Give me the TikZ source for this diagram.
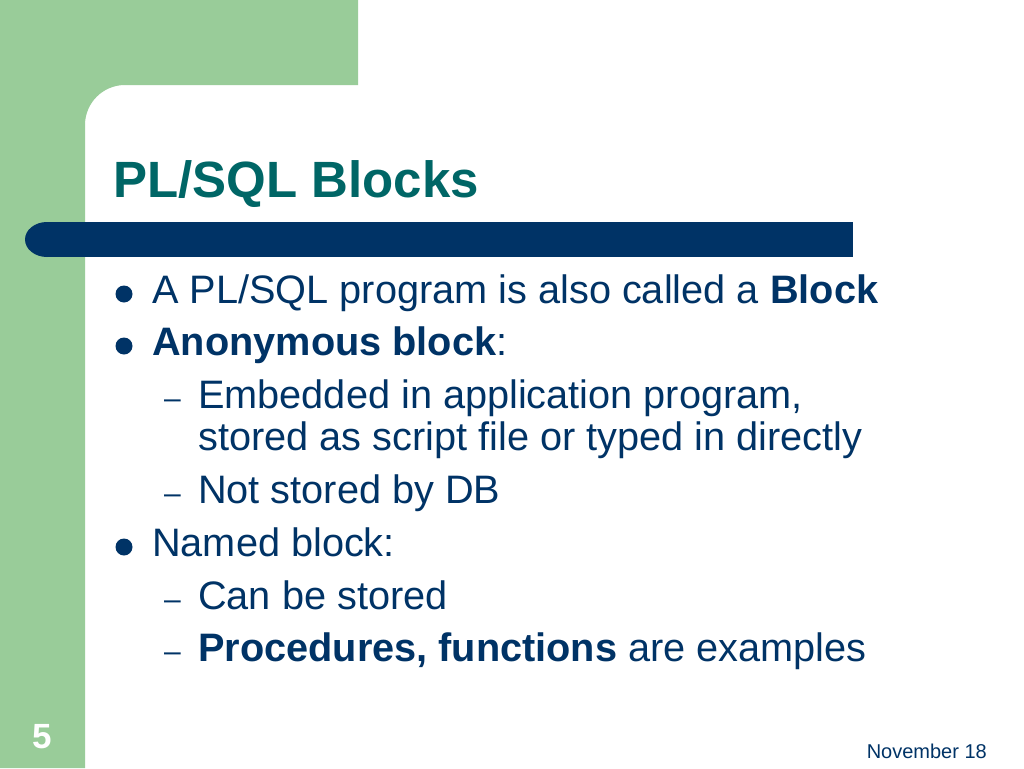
\documentclass[tikz,border=0pt]{standalone}
\usepackage{fontspec}
\setmainfont{Liberation Sans}
\definecolor{slidegreen}{RGB}{153,204,153}
\definecolor{slidenavy}{RGB}{0,51,102}
\definecolor{slideteal}{RGB}{0,102,102}
\tikzset{
	txt/.style={anchor=base west, inner sep=0pt, text=slidenavy, font=\fontsize{39.7}{47}\selectfont},
	dashmark/.style={anchor=base west, inner sep=0pt, text=slidenavy, font=\fontsize{30}{34}\selectfont},
	dotmark/.style={fill=slidenavy}
}

\begin{document}
\begin{tikzpicture}[x=1pt,y=-1pt]
	\useasboundingbox (0,0) rectangle (1024,768);
	\fill[white] (0,0) rectangle (1024,768);
	% green frame with round inner corner
	\fill[slidegreen] (0,0) -- (358,0) -- (358,85) [rounded corners=40pt] -- (85,85) [sharp corners] -- (85,768) -- (0,768) -- cycle;
	% title bar
	\fill[slidenavy] (47,222) rectangle (853,257);
	\fill[slidenavy] (47,239.5) ellipse [x radius=22, y radius=17.5];
	\node[anchor=base west, inner sep=0pt, text=slideteal, font=\fontsize{51}{60}\selectfont\bfseries] (title) at (113,197) {PL/SQL Blocks};
	% bullets
	\fill[dotmark] (124,294) circle (8.5pt);
	\node[txt] (b1) at (152,303) {A PL/SQL program is also called a \textbf{Block}};
	\fill[dotmark] (124,346) circle (8.5pt);
	\node[txt] (b2) at (152,355) {\textbf{Anonymous block}:};
	\node[dashmark] (d1) at (164,408) {--};
	\node[txt] (s1) at (198,408) {Embedded in application program,};
	\node[txt] (s1b) at (198,450) {stored as script file or typed in directly};
	\node[dashmark] (d2) at (164,503) {--};
	\node[txt] (s2) at (198,503) {Not stored by DB};
	\fill[dotmark] (124,547) circle (8.5pt);
	\node[txt] (b3) at (152,556) {Named block:};
	\node[dashmark] (d3) at (164,609) {--};
	\node[txt] (s3) at (198,609) {Can be stored};
	\node[dashmark] (d4) at (164,661) {--};
	\node[txt] (s4) at (198,661) {\textbf{Procedures, functions} are examples};
	% footer
	\node[anchor=base, inner sep=0pt, text=white, font=\fontsize{35}{40}\selectfont\bfseries] (num) at (42,748) {5};
	\node[anchor=base east, inner sep=0pt, text=slidenavy, font=\fontsize{20}{24}\selectfont] (date) at (987,758) {November 18};
\end{tikzpicture}
\end{document}
